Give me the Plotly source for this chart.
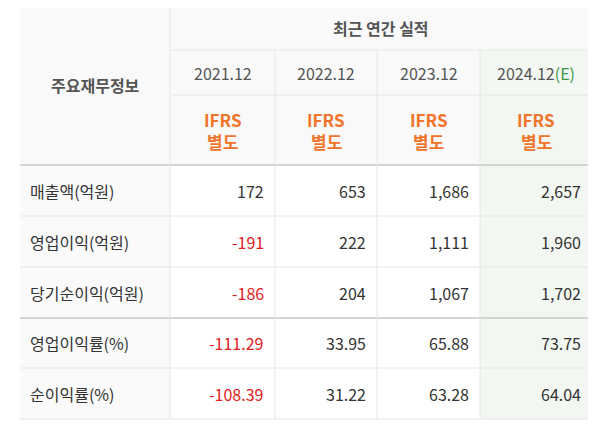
import plotly.graph_objects as go

years = ["2021.12", "2022.12", "2023.12", "2024.12"]
row_labels = ["매출액(억원)", "영업이익(억원)", "당기순이익(억원)", "영업이익률(%)", "순이익률(%)"]
values = [
    ["172", "653", "1,686", "2,657"],
    ["-191", "222", "1,111", "1,960"],
    ["-186", "204", "1,067", "1,702"],
    ["-111.29", "33.95", "65.88", "73.75"],
    ["-108.39", "31.22", "63.28", "64.04"],
]

OFF = 8  # page body margin
W, H = 596 - 2 * OFF, 429 - 2 * OFF
col_x = [20 - OFF, 170 - OFF, 275 - OFF, 377 - OFF, 480 - OFF, 592 - OFF]
row_y = [y - OFF for y in [5, 50, 95, 165, 216, 267, 318, 368, 419]]
FONT = "Noto Sans CJK KR"

fig = go.Figure()
shapes, ann = [], []

def rect(x0, y0, x1, y1, color):
    shapes.append(dict(type="rect", x0=x0, x1=x1, y0=y0, y1=y1, fillcolor=color, line_width=0, layer="below"))

def hline(y, x0, x1, color="#e6e6e6", w=1):
    shapes.append(dict(type="line", x0=x0, x1=x1, y0=y, y1=y, line=dict(color=color, width=w)))

def vline(x, y0, y1, color="#e6e6e6", w=1):
    shapes.append(dict(type="line", x0=x, x1=x, y0=y0, y1=y1, line=dict(color=color, width=w)))

def text(x, y, s, color="#333", size=15, xanchor="center"):
    ann.append(dict(x=x, y=y, text=s, showarrow=False, xanchor=xanchor, yanchor="middle",
                    font=dict(family=FONT, size=size, color=color)))

rect(col_x[0], row_y[0], col_x[5], row_y[3], "#f9f9f9")
rect(col_x[0], row_y[3], col_x[1], row_y[-1], "#fafafa")
rect(col_x[4], row_y[1], col_x[5], row_y[-1], "#f2f7f2")

hline(row_y[0], col_x[0], col_x[5], "#dcdcdc")
hline(row_y[1], col_x[1], col_x[5])
hline(row_y[2], col_x[1], col_x[5])
hline(row_y[3], col_x[0], col_x[5], "#c8c8c8", 1.5)
for y in row_y[4:]:
    c = "#c8c8c8" if y == row_y[6] else "#e6e6e6"
    hline(y, col_x[0], col_x[5], c, 1.5 if y == row_y[6] else 1)
vline(col_x[1], row_y[0], row_y[-1])
for x in col_x[2:5]:
    vline(x, row_y[1], row_y[-1])

text((col_x[0] + col_x[1]) / 2, (row_y[0] + row_y[3]) / 2, "<b>주요재무정보</b>", "#555", 16)
text((col_x[1] + col_x[5]) / 2, (row_y[0] + row_y[1]) / 2, "<b>최근 연간 실적</b>", "#555", 16)
for i, yr in enumerate(years):
    cx = (col_x[i + 1] + col_x[i + 2]) / 2
    s = yr if i < 3 else yr + "<span style='color:#3a9a4a'>(E)</span>"
    text(cx, (row_y[1] + row_y[2]) / 2, s, "#555", 16)
    cy = (row_y[2] + row_y[3]) / 2
    text(cx, cy - 11, "<b>IFRS</b>", "#f0742a", 17)
    text(cx, cy + 11, "<b>별도</b>", "#f0742a", 17)

for r, lab in enumerate(row_labels):
    cy = (row_y[r + 3] + row_y[r + 4]) / 2
    text(col_x[0] + 8, cy, lab, "#333", 16, "left")
    for c, v in enumerate(values[r]):
        col = "#e02020" if v.startswith("-") else "#333"
        text(col_x[c + 2] - 9, cy, v, col, 16, "right")

fig.add_trace(go.Scatter(x=[0], y=[0], mode="markers", marker=dict(opacity=0), hoverinfo="skip"))
fig.update_layout(width=W, height=H, autosize=False, margin=dict(l=0, r=0, t=0, b=0), showlegend=False,
                  plot_bgcolor="white", paper_bgcolor="white", shapes=shapes, annotations=ann,
                  xaxis=dict(range=[0, W], visible=False, fixedrange=True),
                  yaxis=dict(range=[H, 0], visible=False, fixedrange=True))
fig.write_html("out.html")
